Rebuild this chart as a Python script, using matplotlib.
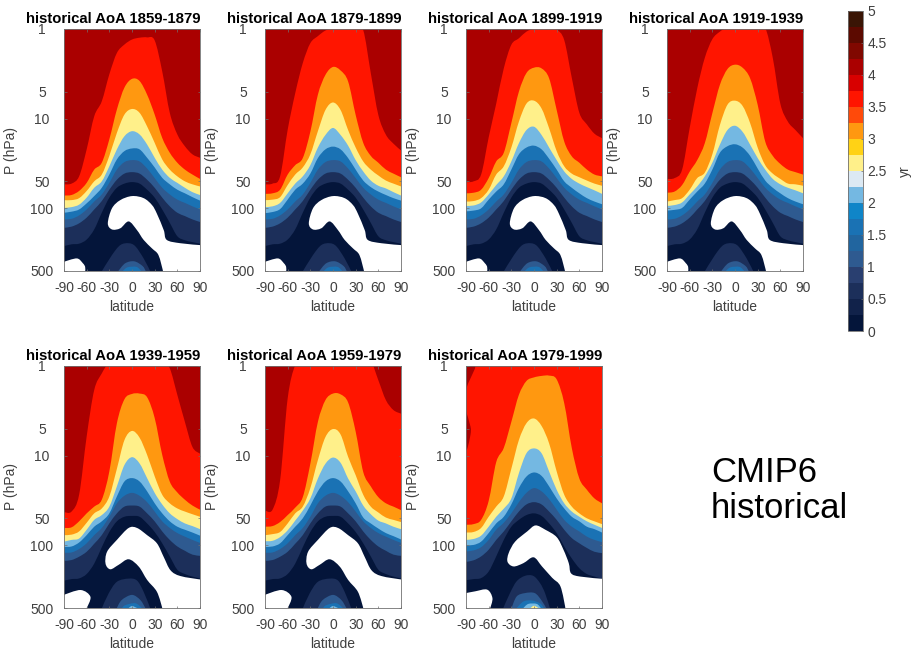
import matplotlib
matplotlib.use("Agg")
import numpy as np
import matplotlib.pyplot as plt
from matplotlib.colors import ListedColormap, BoundaryNorm
from matplotlib.cm import ScalarMappable
from matplotlib.path import Path
from matplotlib.patches import PathPatch

plt.rcParams['font.family'] = ['Liberation Sans', 'DejaVu Sans']

# ---------- data (pressure in hPa of each isoline at LAT) ----------
LAT = [-90, -80, -70, -60, -50, -40, -30, -20, -10, 0, 10, 20, 30, 40, 50, 60, 70, 80, 90]
TITLES = ['historical AoA 1859-1879', 'historical AoA 1879-1899', 'historical AoA 1899-1919',
          'historical AoA 1919-1939', 'historical AoA 1939-1959', 'historical AoA 1959-1979',
          'historical AoA 1979-1999']
LAT_TICKS = [-90, -60, -30, 0, 30, 60, 90]
P_TICKS = [1, 5, 10, 50, 100, 500]
CBAR_LEVELS = [0, 0.25, 0.5, 0.75, 1, 1.25, 1.5, 1.75, 2, 2.25, 2.5, 2.75, 3, 3.25, 3.5, 3.75, 4, 4.25, 4.5, 4.75, 5]
CBAR_TICKS = [0, 0.5, 1, 1.5, 2, 2.5, 3, 3.5, 4, 4.5, 5]
CBAR_LABELS = ['0', '0.5', '1', '1.5', '2', '2.5', '3', '3.5', '4', '4.5', '5']
CMAP_COLORS = ['#04153a', '#11224a', '#1c2f5a', '#293f70', '#2e5a90', '#21659f', '#1a72b4', '#0f85c8',
               '#74b8e2', '#dce9f3', '#fff08a', '#ffd215', '#ff9810', '#ff4a0a', '#ff1500', '#d80000',
               '#aa0000', '#800800', '#5c0a00', '#3a1505']

P1 = {4.0: [54,53,44,22,9.4,6.4,3.2,1.85,1.49,1.31,1.25,1.24,1.34,2.97,8.6,15,20.3,25,27.3],
      3.5: [72,71,64,52,37,31,17,7.9,4.5,3.6,3.8,5.4,9.0,16.4,24,31,37,42,47],
      3.0: [81,81,77,64,50,42,26,14.4,9.0,7.8,8.6,12.2,18.6,28.5,37,44,50,54,57],
      2.5: [99,97,91,76,59,50,34,22,15.7,13.8,15,19.4,27.3,37,45.7,52,59,66,71],
      2.0: [112,109,103,88,73,59,42,28.5,23,21.5,22,27.3,35,45.7,54,62,68,75,82]}
P2 = {4.0: [54,53,44,13.3,5.2,2.4,1.44,1.2,1.04,0.98,0.96,0.96,0.97,1.03,3.1,9.1,15.1,19,22.6],
      3.5: [69,68,62,42,33,27.5,14,5.4,3.25,2.65,2.9,3.85,9.1,18.6,26,31,37,41,45],
      3.0: [81,80,75,55,42,35,25,13.8,8.0,6.6,8.0,13.4,21,30,37,43,49,53,57],
      2.5: [97,95,87,68,53,44,33,21,15.2,12.7,15.2,20,29,38.8,49,56,60,66,72],
      2.0: [113,110,102,80,62,53,41,27.5,22,20.5,22,27.5,37,49,58,65,71,77,82]}
P3 = {4.0: [51,50,42,16.2,6.8,2.75,1.5,1.27,1.07,0.99,0.94,0.94,1.01,1.33,3.5,8.6,11.6,14.7,16.5],
      3.5: [68,67,62,46,30,24,11.2,5.0,3.1,2.7,2.75,3.55,8.0,18,26.3,31,37,42,44],
      3.0: [84,83,77,62,42,34,21,10.8,6.8,6.3,7.7,12.8,23,34,41,45,49,53,56],
      2.5: [94,93,86,70,55,44,30,18.8,13.4,12.3,15.2,21,29,38.8,47,53,58,63,69],
      2.0: [108,106,100,80,65,54,37,25,21,20,22,28,37,50,59,68,77,84,90]}
P4 = {4.0: [47,46,37,12.7,4.6,2.1,1.3,1.07,0.96,0.94,0.94,0.94,0.95,0.97,2.1,6.8,10.8,13.4,16.5],
      3.5: [67,65,55,39,29,18.8,8.7,4.2,2.8,2.5,2.7,3.55,7.0,18,26,32,37,39.5,42],
      3.0: [84,81,77,62,46,40,25,11.8,7.0,6.3,7.2,11.2,21,33,41,47,53,54,56],
      2.5: [94,92,86,70,57,44,31,19.5,13.4,12,14,19.5,27.5,37,47,54,59,63,68],
      2.0: [106,104,99,80,65,53,37,24,20.3,19.3,21,26,36,49,59,68,77,84,90]}
P5 = {4.0: [42.6,42,27.3,6.1,1.85,1.21,0.9,0.85,0.8,0.8,0.8,0.8,0.8,0.85,1.06,2.1,4.2,8.0,9.5],
      3.5: [64,63,54,44,37,31,15,4.35,2.35,2.05,2.03,2.23,3.8,9.8,19.5,25.7,31,36,40],
      3.0: [77,76,70,56,44,38.8,28.5,14,6.7,5.3,6.3,9.8,17,27.3,34,38.8,42,45,48],
      2.5: [91,87,84,67,52,46,37,22,12.7,10.4,12.2,17.8,26,35,44,51,57,61,66],
      2.0: [104,103,93,77,62,54,44,28.5,19.4,17.8,19.4,25,34,44,54,62,67,72,78]}
P6 = {4.0: [41,40,18.8,2.3,0.98,0.87,0.83,0.83,0.83,0.83,0.83,0.83,0.83,0.83,0.87,1.44,2.4,3.1,3.4],
      3.5: [62,61,55,46,38,29,12.3,4.2,2.4,2.03,2.07,2.55,5.4,15.2,22,29,34,37,40.5],
      3.0: [77,75,71,57,44,37,23,11.2,6.2,5.05,5.8,10.3,16.5,27.3,37,43,49,52,55],
      2.5: [90,89,81,68,53,41,30,18,12.3,10.5,12,18,25,36,45,53,57,62,66],
      2.0: [104,103,95,77,62,50,36,25,19.4,17.8,19.4,25,34,49,57,65,73,79,86]}
P7 = {3.5: [59,58,52,32,11.8,8.2,4.2,2.1,1.47,1.34,1.29,1.28,1.41,2.6,8.2,18,24,30,34],
      3.0: [72,71,64,48,37,28.5,14,6.7,4.35,3.85,4.66,7.3,15,27.3,37,44,50,54,58],
      2.5: [87,85,78,62,48,39,30,15.7,9.4,8.3,9.4,15,24,34,42,48,54,59,64],
      2.0: [100,99,91,73,57,48,35,23,17.1,15.4,16.8,22,30,38.8,48,54,62,66,72],
      1.5: [117,114,105,87,67,56,44,33,26,23,25,30.5,40,52,62,70,80,87,92],
      1.0: [153,147,133,112,87,70,54,42,35,33,35,42,52,67,83,95,107,118,122],
      0.5: [245,238,232,196,133,87,62,52,46,44,47,57,73,103,140,180,209,223,236]}

LOW_EARLY = {1.5: [133,131,120,103,84,70,52,37,30.5,29,30,36,46,59,70,80,87,95,103],
             1.0: [165,160,147,127,103,83,62,48,41,39.5,41,48,59,76,95,112,122,133,142],
             0.5: [264,252,248,223,172,112,76,59,53,51,53,62,76,103,145,205,227,238,248]}
LOW_MID = {1.5: [121,120,110,95,77,64,48,34,28,26,28,33,42,54,64,73,80,87,94],
           1.0: [149,146,134,118,96,77,57,44,37,36,37,44,54,70,87,103,115,127,131],
           0.5: [248,238,234,209,160,105,71,54,48,47,48,57,71,95,133,187,209,223,234]}

# regions below zero (white) as (latitude, pressure) outlines
HOLE_EARLY = ([-32,-26.5,-15.5,0,15.4,26.5,33,42,46,64,90,90,41,35,26.5,15.4,6.6,-4.4,-15.5,-26.5],
              [147,100,81,73,77,92,115,175,225,245,257,500,500,332,280,225,175,140,167,172])
HOLE_MID = ([-35,-33,-20,-4.4,6.6,20,33,42,51,64,90,90,40,33,20,9,-4.4,-17.7,-28.7],
            [160,118,87,64,64,77,95,135,190,220,240,500,500,330,243,173,143,165,185])
HOLE_LATE = ([-35,-33.5,-25,-9,2,15,30,39,46,49,61,90,90,41.5,35,24,10.6,-0.5,-14,-27],
             [153,122,91,70,60,67,81,112,158,205,223,236,500,500,287,230,172,136,158,172])
CORNER_EARLY = ([-90,-73,-65,-62,-62,-90], [395,362,410,450,500,500])
CORNER_MID = ([-90,-68,-55,-60,-90], [357,315,375,500,500])
CORNER_LATE = ([-90,-78,-62,-55,-58,-90], [341,326,312,388,500,500])

# tropical near-surface patches: level -> (latitude, pressure)
BLOB_EARLY = {0.5: ([-39.7,-26.5,-15.5,-4.4,4.4,15.4,24], [500,332,257,245,265,362,500]),
              1.0: ([-18,-9,3,14,18], [500,410,390,440,500]),
              1.5: ([-12,-6,6,12], [500,455,450,500])}
BLOB_MID = {0.5: ([-39.7,-31,-20,-4.4,6.6,15.4,24], [500,345,255,235,247,330,500]),
            1.0: ([-20,-13.6,0,11,17.6], [500,407,357,407,500]),
            1.5: ([-13,-9,4.4,13], [500,465,442,500]),
            2.0: ([-4.4,0,6.6], [500,475,500])}
BLOB_LATE = {0.5: ([-40.6,-31.8,-23,-12,-1,8,14.6,21], [500,341,252,219,219,264,341,500]),
             1.0: ([-29.6,-23,-12,1,10,16], [500,372,341,341,412,500]),
             1.5: ([-22.9,-14,-3,8,13], [500,423,412,443,500]),
             2.0: ([-14,-7.5,3.5,9], [500,450,450,500]),
             2.5: ([-4.4,0,5.7], [500,472,500])}
# isolated 4-4.5 yr patches in the last period
PATCHES_LATE = [([-90,-78,-82,-87,-90], [1,1,1.26,1.55,1.85]),
                ([-90,-84,-84,-88,-90], [3.2,4.75,5.8,8.2,8.6])]

PANELS = [(P1, LOW_EARLY, HOLE_EARLY, CORNER_EARLY, BLOB_EARLY, []),
          (P2, LOW_EARLY, HOLE_EARLY, CORNER_EARLY, BLOB_EARLY, []),
          (P3, LOW_EARLY, HOLE_EARLY, CORNER_EARLY, BLOB_EARLY, []),
          (P4, LOW_EARLY, HOLE_EARLY, CORNER_EARLY, BLOB_EARLY, []),
          (P5, LOW_MID, HOLE_MID, CORNER_MID, BLOB_MID, []),
          (P6, LOW_MID, HOLE_MID, CORNER_MID, BLOB_MID, []),
          (P7, {}, HOLE_LATE, CORNER_LATE, BLOB_LATE, PATCHES_LATE)]

# ---------- drawing ----------
W, H = 911, 648
fig = plt.figure(figsize=(W / 100, H / 100), dpi=100, facecolor='white')
PTOP, PBOT = 1, 500
TXT = '#404040'
EDGE = '#707070'


def band_colour(level):
    return CMAP_COLORS[CBAR_LEVELS.index(level)]


def axes_px(x0, y0, x1, y1):
    return fig.add_axes([x0 / W, 1 - y1 / H, (x1 - x0) / W, (y1 - y0) / H])


def spline_segments(lat, pres, closed):
    """Bezier curve through the read points, straight in log-pressure."""
    lat = np.asarray(lat, float)
    pres = np.asarray(pres, float)
    pts = np.column_stack([lat, np.log10(pres)])
    n = len(pts)
    tang = np.zeros_like(pts)
    for i in range(n):
        if closed:
            if abs(lat[i]) == 90 or pres[i] == PBOT:
                continue  # corners on the frame stay sharp
            tang[i] = (pts[(i + 1) % n] - pts[(i - 1) % n]) / 6
        else:
            tang[i] = (pts[min(i + 1, n - 1)] - pts[max(i - 1, 0)]) / 6
    verts, codes = [pts[0]], [Path.MOVETO]
    for i in range(n if closed else n - 1):
        j = (i + 1) % n
        verts += [pts[i] + tang[i], pts[j] - tang[j], pts[j]]
        codes += [Path.CURVE4] * 3
    verts = np.array(verts)
    verts[:, 1] = 10.0 ** verts[:, 1]
    return verts, codes


def add_closed(ax, lat, pres, colour):
    verts, codes = spline_segments(lat, pres, True)
    verts = np.vstack([verts, verts[0]])
    codes = codes + [Path.CLOSEPOLY]
    ax.add_patch(PathPatch(Path(verts, codes), facecolor=colour, edgecolor='none', lw=0))


def add_below_isoline(ax, lat, pres, colour):
    verts, codes = spline_segments(lat, pres, False)
    verts = np.vstack([verts, [lat[-1], PBOT], [lat[0], PBOT], verts[0]])
    codes = codes + [Path.LINETO, Path.LINETO, Path.CLOSEPOLY]
    ax.add_patch(PathPatch(Path(verts, codes), facecolor=colour, edgecolor='none', lw=0))


LEFTS = [64, 265, 466, 667, 64, 265, 466]
TOPS = [29, 29, 29, 29, 366, 366, 366]

for i, (upper, low, hole, corner, blob, patches) in enumerate(PANELS):
    ax = axes_px(LEFTS[i], TOPS[i], LEFTS[i] + 136, TOPS[i] + 242)
    ax.set_yscale('log')
    ax.set_xlim(-90, 90)
    ax.set_ylim(PBOT, PTOP)
    isolines = {**upper, **low}
    top_level = max(isolines)
    ax.fill_between(LAT, PTOP, PBOT, color=band_colour(top_level), lw=0)
    for level in sorted(isolines, reverse=True):
        add_below_isoline(ax, LAT, isolines[level], band_colour(level - 0.5))
    for la, pr in patches:
        add_closed(ax, la, pr, band_colour(4.0))
    add_closed(ax, hole[0], hole[1], 'white')
    add_closed(ax, corner[0], corner[1], 'white')
    for level in sorted(blob):
        add_closed(ax, blob[level][0], blob[level][1], band_colour(level))

    ax.minorticks_off()
    ax.set_xticks(LAT_TICKS)
    ax.set_xticklabels([str(v) for v in LAT_TICKS])
    ax.set_yticks(P_TICKS)
    ax.set_yticklabels([str(v) for v in P_TICKS])
    ax.tick_params(axis='both', which='major', direction='in', length=1.8, width=0.5, color=EDGE,
                   labelsize=10, labelcolor=TXT, top=True, right=True)
    ax.tick_params(axis='x', pad=7)
    ax.tick_params(axis='y', pad=15.8)
    for lab in ax.get_yticklabels():
        lab.set_ha('center')
    for s in ax.spines.values():
        s.set_color(EDGE)
        s.set_linewidth(0.6)
    ax.set_xlabel('latitude', fontsize=10, color=TXT, labelpad=3.5)
    ax.set_ylabel('P (hPa)', fontsize=10, color=TXT)
    ax.yaxis.set_label_coords(-0.338, 0.5)
    ax.set_title(TITLES[i], fontsize=10.7, fontweight='bold', color='black', x=0.364, pad=4.3)

cax = axes_px(848, 10.5, 863, 331)
cmap = ListedColormap(CMAP_COLORS)
norm = BoundaryNorm(CBAR_LEVELS, cmap.N)
cb = fig.colorbar(ScalarMappable(norm=norm, cmap=cmap), cax=cax, ticks=CBAR_TICKS, spacing='proportional')
cb.set_ticklabels(CBAR_LABELS)
cb.ax.minorticks_off()
cb.ax.tick_params(length=1.8, width=0.5, color=EDGE, direction='in', labelsize=10, labelcolor=TXT, pad=3)
cb.outline.set_edgecolor(EDGE)
cb.outline.set_linewidth(0.6)
cb.set_label('yr', fontsize=10, color=TXT, labelpad=8)

fig.text(711 / W, 1 - 472 / H, 'CMIP6', fontsize=25, color='black', va='center', ha='left')
fig.text(711 / W, 1 - 509 / H, 'historical', fontsize=25, color='black', va='center', ha='left')

fig.savefig('out.png', dpi=100, facecolor='white')
